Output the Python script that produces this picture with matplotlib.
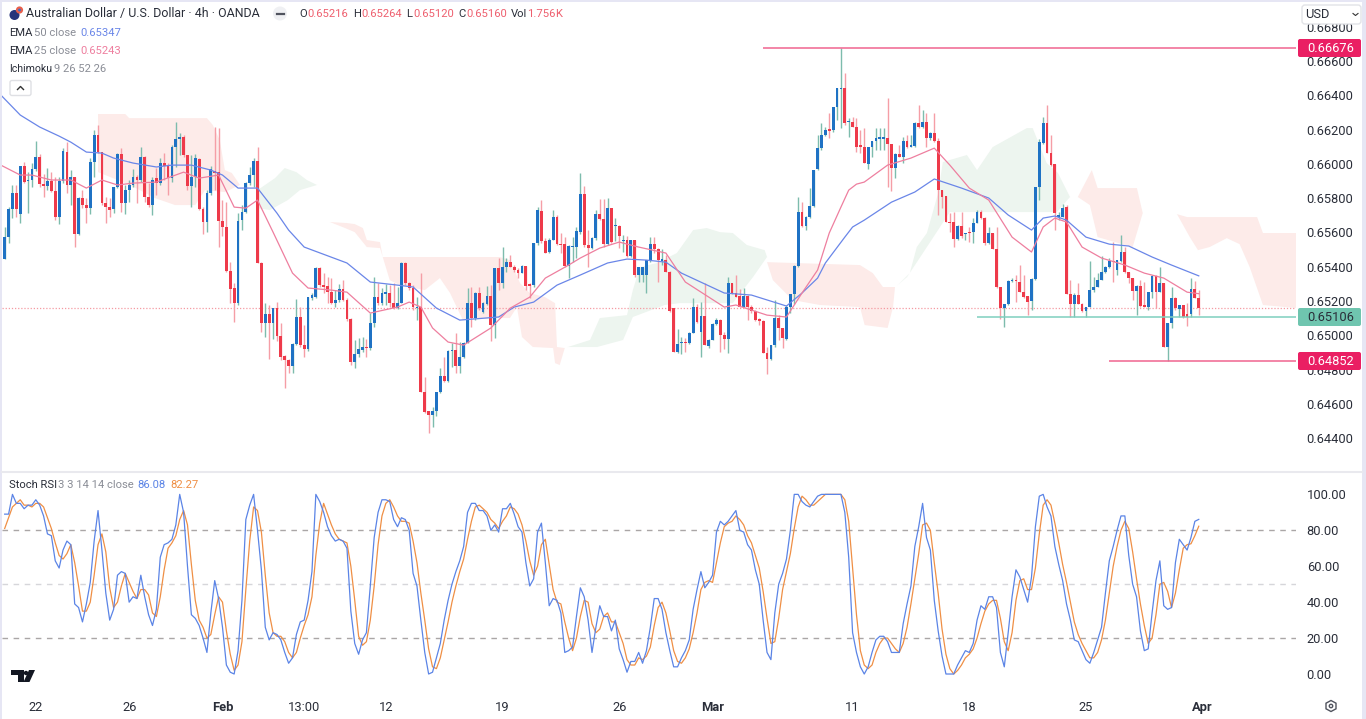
#!/usr/bin/env python3
"""AUD/USD 4h candles with EMA, Ichimoku cloud and Stoch RSI panel."""
import numpy as np
import matplotlib
matplotlib.use("Agg")
import matplotlib.pyplot as plt
from matplotlib.patches import Circle, FancyBboxPatch, Polygon, Rectangle

plt.rcParams["font.family"] = ["Roboto", "DejaVu Sans"]

# prices are in units of 0.00001
opens = [
    65443, 65571, 65735, 65828, 65707, 65987, 65902, 65909, 65968, 66038,
    65882, 65871, 65902, 65843, 65692, 65902, 66071, 65876, 65925, 65591,
    65799, 65760, 65740, 66009, 66168, 66071, 65773, 65746, 65735, 65863,
    66057, 65770, 65847, 65876, 65925, 65906, 66038, 65808, 65760, 65919,
    65886, 66003, 65987, 65915, 66100, 66148, 66158, 66051, 65871, 65925,
    66026, 65735, 65663, 65828, 65960, 65954, 65668, 65634, 65377, 65274,
    65190, 65672, 65721, 65886, 65935, 66018, 65424, 65074, 65124, 65070,
    65157, 64996, 64880, 64856, 64823, 64950, 65105, 64944, 64918, 65216,
    65226, 65391, 65293, 65288, 65255, 65190, 65206, 65268, 65206, 65093,
    64847, 64891, 64915, 64930, 64924, 65074, 65222, 65187, 65241, 65249,
    65187, 65157, 65190, 65423, 65303, 65274, 65161, 65163, 64671, 64561,
    64535, 64561, 64671, 64763, 64736, 64906, 64914, 64821, 64871, 64957,
    65186, 65099, 65248, 65138, 65182, 65229, 65060, 65394, 65303, 65400,
    65429, 65400, 65381, 65365, 65404, 65297, 65293, 65540, 65726, 65552,
    65487, 65559, 65691, 65532, 65532, 65404, 65517, 65517, 65604, 65827,
    65526, 65511, 65565, 65707, 65676, 65532, 65740, 65637, 65637, 65551,
    65555, 65462, 65555, 65351, 65351, 65351, 65439, 65530, 65501, 65435,
    65439, 65371, 65157, 64904, 64955, 64963, 64953, 65015, 65163, 65021,
    65114, 64937, 64972, 65066, 65089, 65002, 64976, 65303, 65248, 65231,
    65163, 65231, 65167, 65143, 65093, 65085, 64895, 64860, 64943, 65103,
    65040, 64976, 65167, 65241, 65404, 65717, 65637, 65691, 65754, 65968,
    66090, 66168, 66201, 66197, 66333, 66436, 66440, 66242, 66246, 66217,
    66110, 66100, 65999, 66096, 66133, 66148, 66148, 66152, 66119, 65978,
    66057, 66042, 66133, 66100, 66104, 66236, 66217, 66246, 66152, 66183,
    66135, 65847, 65812, 65663, 65663, 65560, 65639, 65591, 65604, 65601,
    65657, 65721, 65686, 65536, 65595, 65503, 65284, 65158, 65181, 65317,
    65321, 65313, 65255, 65230, 65200, 65331, 65867, 66123, 66236, 66061,
    65997, 65692, 65692, 65746, 65241, 65181, 65235, 65183, 65144, 65167,
    65264, 65284, 65322, 65371, 65400, 65435, 65381, 65435, 65484, 65371,
    65332, 65258, 65289, 65175, 65167, 65254, 65346, 65254, 65307, 64930,
    65070, 65220, 65153, 65177, 65124, 65124, 65270, 65216,
]
closes = [
    65571, 65735, 65828, 65735, 65987, 65896, 65909, 65968, 66038, 65882,
    65871, 65902, 65843, 65692, 65902, 66077, 65876, 65925, 65591, 65799,
    65760, 65740, 66009, 66168, 66071, 65770, 65746, 65731, 65863, 66057,
    65770, 65847, 65876, 65925, 65906, 66038, 65808, 65760, 65909, 65886,
    66003, 65987, 65915, 66100, 66148, 66158, 66051, 65871, 65925, 66032,
    65735, 65663, 65828, 65968, 65948, 65668, 65634, 65377, 65268, 65190,
    65668, 65721, 65886, 65935, 66018, 65424, 65074, 65124, 65070, 65157,
    64996, 64876, 64856, 64823, 64950, 65105, 64944, 64918, 65222, 65235,
    65391, 65293, 65284, 65255, 65190, 65206, 65268, 65206, 65093, 64847,
    64891, 64918, 64930, 64924, 65074, 65222, 65187, 65245, 65251, 65187,
    65157, 65190, 65423, 65303, 65274, 65163, 65167, 64671, 64555, 64535,
    64561, 64671, 64763, 64736, 64910, 64914, 64821, 64875, 64953, 65186,
    65099, 65248, 65157, 65186, 65229, 65060, 65394, 65303, 65400, 65429,
    65400, 65381, 65365, 65404, 65287, 65287, 65540, 65730, 65552, 65482,
    65559, 65691, 65532, 65526, 65404, 65520, 65524, 65608, 65827, 65526,
    65511, 65569, 65707, 65676, 65532, 65740, 65546, 65643, 65579, 65559,
    65462, 65555, 65351, 65400, 65400, 65439, 65530, 65501, 65439, 65443,
    65371, 65143, 64904, 64949, 64963, 64957, 65015, 65163, 65079, 65114,
    64943, 64972, 65066, 65089, 65002, 64976, 65303, 65248, 65225, 65163,
    65231, 65167, 65143, 65089, 65083, 64899, 64860, 64943, 65103, 65040,
    64982, 65167, 65241, 65404, 65717, 65637, 65691, 65754, 65967, 66090,
    66168, 66197, 66193, 66333, 66440, 66444, 66236, 66250, 66217, 66100,
    66100, 66003, 66100, 66133, 66152, 66156, 66156, 66119, 65974, 66057,
    66042, 66133, 66100, 66108, 66236, 66217, 66246, 66149, 66183, 66135,
    65847, 65808, 65663, 65657, 65560, 65639, 65579, 65599, 65597, 65657,
    65721, 65686, 65536, 65595, 65503, 65280, 65158, 65181, 65319, 65325,
    65315, 65255, 65226, 65196, 65331, 65867, 66125, 66236, 66061, 65993,
    65711, 65701, 65740, 65241, 65181, 65235, 65183, 65144, 65167, 65264,
    65284, 65322, 65371, 65400, 65435, 65429, 65439, 65484, 65371, 65332,
    65260, 65289, 65171, 65167, 65254, 65346, 65254, 65307, 64934, 65070,
    65220, 65157, 65177, 65105, 65105, 65270, 65216, 65160,
]
highs = [
    65634, 65750, 65876, 65876, 65987, 66012, 65954, 66003, 66135, 66057,
    65944, 65974, 65954, 65925, 65925, 66090, 66129, 65964, 65925, 65808,
    65847, 65799, 66032, 66197, 66226, 66071, 65808, 65799, 65867, 66065,
    66090, 65876, 65906, 65968, 65935, 66096, 66045, 65886, 65925, 65974,
    66032, 66061, 66003, 66110, 66244, 66178, 66168, 66051, 66051, 66057,
    66032, 65750, 65847, 65987, 66216, 66207, 65789, 65779, 65430, 65303,
    65711, 65760, 65896, 65983, 66032, 66100, 65430, 65187, 65177, 65157,
    65196, 65070, 64885, 64860, 64954, 65210, 65167, 65060, 65226, 65245,
    65396, 65396, 65361, 65342, 65332, 65264, 65299, 65323, 65216, 65099,
    64973, 64983, 64992, 64977, 65128, 65342, 65303, 65274, 65299, 65293,
    65303, 65284, 65429, 65429, 65313, 65293, 65225, 65365, 64759, 64561,
    64584, 64671, 64807, 64875, 64914, 64953, 65011, 64963, 64963, 65274,
    65283, 65254, 65283, 65196, 65287, 65293, 65394, 65449, 65513, 65449,
    65468, 65410, 65390, 65410, 65404, 65303, 65540, 65746, 65789, 65565,
    65565, 65730, 65701, 65598, 65571, 65526, 65575, 65633, 65948, 65870,
    65614, 65571, 65734, 65798, 65798, 65804, 65740, 65682, 65643, 65585,
    65579, 65555, 65559, 65400, 65400, 65439, 65575, 65571, 65507, 65501,
    65468, 65375, 65157, 65035, 64992, 64982, 65021, 65215, 65182, 65196,
    65303, 64976, 65070, 65099, 65093, 65021, 65338, 65303, 65351, 65268,
    65274, 65235, 65176, 65147, 65099, 65089, 64934, 64943, 65206, 65118,
    65040, 65176, 65244, 65410, 65808, 65779, 65695, 65857, 65967, 66168,
    66240, 66217, 66294, 66333, 66440, 66676, 66531, 66265, 66271, 66265,
    66197, 66207, 66100, 66133, 66207, 66207, 66207, 66382, 66119, 66061,
    66110, 66158, 66168, 66168, 66246, 66343, 66314, 66294, 66187, 66294,
    66154, 65847, 65812, 65715, 65721, 65643, 65721, 65599, 65634, 65686,
    65731, 65731, 65692, 65634, 65595, 65634, 65284, 65181, 65323, 65332,
    65352, 65410, 65352, 65230, 65332, 65867, 66148, 66271, 66343, 66168,
    65997, 65721, 65769, 65760, 65322, 65245, 65307, 65187, 65167, 65435,
    65342, 65361, 65462, 65404, 65449, 65546, 65439, 65585, 65517, 65371,
    65332, 65293, 65322, 65313, 65254, 65352, 65352, 65400, 65307, 65070,
    65280, 65225, 65177, 65177, 65186, 65332, 65319, 65264,
]
lows = [
    65443, 65536, 65682, 65692, 65653, 65886, 65711, 65867, 65960, 65867,
    65808, 65847, 65838, 65672, 65649, 65886, 65828, 65760, 65517, 65585,
    65740, 65657, 65707, 65925, 66061, 65760, 65657, 65688, 65711, 65857,
    65721, 65707, 65779, 65863, 65770, 65896, 65779, 65750, 65702, 65818,
    65876, 65906, 65818, 65896, 65983, 66051, 66042, 65847, 65746, 65863,
    65731, 65591, 65604, 65818, 65847, 65517, 65579, 65371, 65187, 65080,
    65177, 65614, 65711, 65876, 65867, 65420, 65022, 64992, 64860, 64977,
    64969, 64856, 64691, 64779, 64783, 64944, 64934, 64872, 64911, 65206,
    65216, 65284, 65245, 65187, 65183, 65167, 65196, 65202, 65086, 64827,
    64808, 64876, 64905, 64876, 64915, 65047, 65177, 65177, 65177, 65167,
    65154, 65152, 65186, 65293, 65264, 65147, 65089, 64671, 64545, 64428,
    64467, 64529, 64662, 64730, 64730, 64817, 64778, 64778, 64866, 64957,
    65050, 65089, 65147, 65128, 65176, 64969, 64982, 65264, 65274, 65371,
    65396, 65371, 65332, 65361, 65264, 65215, 65283, 65526, 65536, 65478,
    65478, 65555, 65526, 65478, 65400, 65332, 65429, 65449, 65594, 65517,
    65400, 65501, 65555, 65672, 65517, 65526, 65536, 65551, 65507, 65487,
    65458, 65458, 65342, 65313, 65313, 65245, 65429, 65478, 65313, 65410,
    65371, 65138, 64904, 64895, 64891, 64904, 64949, 65011, 65073, 64875,
    64943, 64924, 64972, 65060, 64904, 64918, 64899, 65244, 65225, 65163,
    65163, 65089, 65128, 65085, 65060, 64895, 64774, 64856, 64934, 64972,
    64924, 64972, 65128, 65182, 65400, 65633, 65614, 65682, 65750, 65964,
    66084, 66162, 66149, 66187, 66259, 66207, 66226, 66158, 66213, 66071,
    66061, 66003, 65968, 66038, 66081, 66084, 66081, 65867, 65843, 65915,
    66038, 66003, 66090, 66100, 66100, 66207, 66207, 66100, 66139, 66129,
    65702, 65740, 65663, 65604, 65517, 65556, 65566, 65556, 65546, 65536,
    65653, 65676, 65527, 65533, 65503, 65274, 65093, 65047, 65177, 65313,
    65196, 65255, 65216, 65119, 65148, 65323, 65789, 66119, 66061, 65987,
    65614, 65672, 65688, 65241, 65109, 65109, 65183, 65138, 65109, 65163,
    65254, 65280, 65322, 65365, 65390, 65313, 65352, 65429, 65365, 65303,
    65206, 65118, 65167, 65167, 65148, 65216, 65157, 65254, 64934, 64852,
    65041, 65148, 65109, 65099, 65054, 65105, 65216, 65120,
]

stoch_k = [
    89, 89, 100, 95, 95, 92, 94, 94, 97, 94,
    88, 78, 77, 63, 59, 69, 74, 72, 39, 37,
    29, 39, 51, 74, 91, 69, 45, 30, 36, 55,
    57, 56, 40, 43, 42, 55, 43, 33, 27, 36,
    65, 72, 73, 75, 83, 100, 90, 60, 33, 31,
    27, 20, 12, 34, 52, 42, 26, 5, 1, 0,
    13, 41, 86, 94, 100, 80, 58, 26, 19, 23,
    22, 19, 12, 6, 9, 22, 29, 30, 41, 57,
    100, 96, 90, 82, 77, 74, 75, 74, 70, 35,
    17, 11, 19, 23, 49, 76, 90, 97, 97, 96,
    86, 82, 87, 86, 80, 56, 49, 30, 12, 0,
    1, 9, 17, 30, 41, 50, 57, 63, 71, 90,
    95, 95, 91, 91, 88, 80, 83, 79, 92, 92,
    95, 89, 82, 79, 62, 49, 53, 79, 84, 62,
    38, 42, 41, 34, 12, 13, 15, 32, 48, 43,
    30, 12, 26, 38, 32, 32, 24, 30, 14, 8,
    1, 7, 7, 12, 6, 13, 26, 42, 42, 36,
    23, 13, 4, 4, 9, 13, 19, 36, 47, 57,
    48, 51, 55, 79, 85, 83, 85, 88, 91, 80,
    79, 72, 69, 58, 50, 30, 12, 8, 34, 50,
    56, 64, 80, 100, 100, 96, 94, 93, 96, 99,
    100, 100, 100, 100, 100, 100, 90, 65, 23, 12,
    4, 0, 4, 12, 19, 21, 21, 18, 12, 12,
    12, 28, 39, 49, 71, 82, 95, 76, 69, 41,
    24, 10, 0, 0, 0, 5, 9, 13, 12, 17,
    30, 38, 36, 43, 43, 37, 12, 4, 23, 43,
    58, 54, 47, 40, 54, 82, 99, 100, 93, 88,
    71, 61, 52, 39, 30, 19, 18, 13, 8, 6,
    12, 19, 26, 45, 63, 71, 80, 88, 88, 66,
    50, 43, 24, 13, 14, 34, 52, 63, 38, 36,
    37, 62, 75, 72, 69, 76, 85, 86.08,
]
stoch_d = [
    81, 87, 93, 95, 97, 94, 94, 93, 95, 95,
    93, 87, 81, 73, 66, 64, 67, 72, 62, 49,
    35, 35, 40, 55, 72, 78, 68, 48, 37, 40,
    49, 56, 51, 46, 42, 47, 47, 44, 34, 32,
    43, 58, 70, 73, 77, 86, 91, 83, 61, 41,
    30, 26, 20, 22, 33, 43, 40, 24, 11, 2,
    5, 18, 47, 74, 93, 91, 79, 55, 34, 23,
    21, 21, 18, 12, 9, 12, 20, 27, 33, 43,
    66, 84, 95, 89, 83, 78, 75, 74, 73, 60,
    41, 21, 16, 18, 30, 49, 72, 88, 95, 97,
    93, 88, 85, 85, 84, 74, 62, 45, 30, 14,
    4, 3, 9, 19, 29, 40, 49, 57, 64, 75,
    85, 93, 94, 92, 90, 86, 84, 81, 85, 88,
    93, 92, 89, 83, 74, 63, 55, 60, 72, 75,
    61, 47, 40, 39, 29, 20, 13, 20, 32, 41,
    40, 28, 23, 25, 32, 34, 29, 29, 23, 17,
    8, 5, 5, 9, 8, 10, 15, 27, 37, 40,
    34, 24, 13, 7, 6, 9, 14, 23, 34, 47,
    51, 52, 51, 62, 73, 82, 84, 85, 88, 86,
    83, 77, 73, 66, 59, 46, 31, 17, 18, 31,
    47, 57, 67, 81, 93, 99, 97, 94, 94, 96,
    98, 100, 100, 100, 100, 100, 97, 85, 59, 33,
    13, 5, 3, 5, 12, 17, 20, 20, 17, 14,
    12, 17, 26, 39, 53, 67, 83, 84, 80, 62,
    45, 25, 11, 3, 0, 2, 5, 9, 11, 14,
    20, 28, 35, 39, 41, 41, 31, 18, 13, 23,
    41, 52, 53, 47, 47, 59, 78, 94, 97, 94,
    84, 73, 61, 51, 40, 29, 22, 17, 13, 9,
    9, 12, 19, 30, 45, 60, 71, 80, 85, 81,
    68, 53, 39, 27, 17, 20, 33, 50, 51, 46,
    37, 45, 58, 70, 72, 72.5, 77, 82.27,
]

# EMAs, read at their bends
ema50_i = [-1, 4, 9, 14, 17, 21, 25, 28, 33, 39, 43, 48, 53, 56, 60, 65, 70, 73, 77, 88,
           94, 101, 105, 111, 117, 127, 131, 136, 142, 148, 155, 160, 165, 170, 174, 185,
           192, 201, 205, 209, 211, 216, 218, 221, 228, 234, 239, 246, 253, 258, 264, 267,
           270, 273, 278, 284, 289, 295, 300, 307]
ema50 = [66402, 66285, 66215, 66162, 66127, 66069, 66063, 66034, 66005, 65982, 65993, 65993,
         65964, 65935, 65859, 65859, 65713, 65614, 65515, 65422, 65311, 65293, 65282, 65159,
         65089, 65107, 65165, 65194, 65293, 65352, 65422, 65445, 65439, 65427, 65363, 65247,
         65235, 65171, 65247, 65334, 65422, 65573, 65632, 65672, 65777, 65836, 65912, 65859,
         65801, 65702, 65614, 65684, 65696, 65672, 65573, 65532, 65521, 65457, 65410, 65347]
ema25_i = [-1, 4, 7, 12, 17, 21, 25, 29, 33, 39, 46, 50, 55, 59, 62, 65, 69, 74, 78, 84,
           88, 94, 101, 104, 107, 110, 114, 118, 125, 130, 135, 139, 145, 148, 153, 158,
           163, 170, 175, 185, 188, 196, 201, 205, 209, 212, 215, 217, 219, 221, 227, 233,
           239, 243, 248, 253, 259, 264, 267, 270, 273, 277, 282, 288, 293, 298, 304, 307]
ema25 = [65993, 65935, 65935, 65906, 65906, 65859, 65906, 65877, 65888, 65894, 65952, 65917,
         65935, 65748, 65742, 65789, 65602, 65363, 65276, 65264, 65252, 65130, 65165, 65194,
         65165, 65043, 64961, 64943, 65043, 65159, 65223, 65334, 65410, 65451, 65509, 65544,
         65515, 65480, 65311, 65165, 65177, 65118, 65107, 65247, 65381, 65597, 65748, 65847,
         65882, 65894, 65993, 66034, 66092, 65993, 65859, 65789, 65573, 65486, 65632, 65684,
         65661, 65515, 65451, 65410, 65363, 65334, 65252, 65243]

# Ichimoku cloud outlines (bar position, price)
red_cloud_a_i = [24, 31, 32, 52, 53.5, 55.3, 56.6, 58.4, 60.5, 56.6, 51.5, 49, 43.8, 38.6, 32.2, 24]
red_cloud_a = [66291, 66291, 66267, 66267, 66227, 66139, 65964, 65947, 65877, 65836, 65847, 65760,
               65760, 65801, 65877, 65952]
green_cloud_a_i = [65, 69.5, 72, 75, 77.7, 80.3, 75.9, 72.8, 68.2, 65]
green_cloud_a = [65847, 65917, 65976, 65952, 65906, 65877, 65847, 65789, 65731, 65742]
red_cloud_b_i = [83.6, 88, 90, 92.1, 93.1, 96.5, 97.2, 127.3, 129.9, 132.5, 135, 138.9, 141.5, 142,
                 144, 142.7, 141.5, 141, 135.8, 133, 131.7, 129.9, 126.6, 117.8, 114.5, 111.9, 108,
                 101.6, 99, 96.5, 93.1, 90, 87.5]
red_cloud_b = [65661, 65655, 65649, 65626, 65556, 65544, 65457, 65457, 65439, 65305, 65247, 65223,
               65188, 64932, 64926, 64827, 64838, 64926, 64932, 64990, 65165, 65101, 65101, 65089,
               65247, 65334, 65264, 65293, 65322, 65509, 65515, 65602, 65626]
green_cloud_b_i = [144.8, 150.5, 153, 160, 161.5, 163.3, 167.7, 172.8, 177, 180.5, 183.9, 187.2,
                   190.8, 195.4, 196, 192.4, 187.2, 173.6, 169.7, 161.5, 159, 152.3]
green_cloud_b = [64932, 64973, 65101, 65118, 65264, 65398, 65422, 65480, 65614, 65626, 65602, 65597,
                 65527, 65497, 65457, 65340, 65188, 65188, 65177, 65107, 64973, 64932]
red_cloud_c_i = [196, 219.9, 223.2, 225.8, 228.9, 228.4, 227, 221.1, 219.9, 209.6, 202.6, 197.5]
red_cloud_c = [65427, 65410, 65363, 65282, 65282, 65165, 65043, 65060, 65165, 65177, 65206, 65322]
green_cloud_c_i = [229.6, 232.7, 234.5, 237.1, 240, 241.2, 247.4, 250, 254, 262.8, 264.3, 267.9,
                   270.8, 273.9, 270.5, 243, 237.1, 232]
green_cloud_c = [65293, 65363, 65515, 65597, 65830, 66011, 66052, 65964, 66098, 66209, 66209, 66005,
                 65947, 65807, 65719, 65719, 65515, 65340]
red_cloud_d_i = [275.9, 279.5, 281, 291.1, 292.6, 301.4, 304, 322, 323.5, 332.2, 332.2, 323.5, 320.1,
                 317.5, 314.2, 309.8, 306.8, 304.7, 301.4, 292.6, 290, 281, 279]
red_cloud_d = [65807, 65964, 65859, 65859, 65713, 65707, 65690, 65690, 65597, 65597, 65159, 65177,
               65398, 65532, 65567, 65515, 65497, 65573, 65707, 65713, 65515, 65573, 65760]

y_ticks = [0.644, 0.646, 0.648, 0.650, 0.652, 0.654, 0.656, 0.658, 0.660, 0.662, 0.664, 0.666, 0.668]
stoch_ticks = [0, 20, 40, 60, 80, 100]
x_tick_pos = [8, 32, 56, 77, 98, 128, 158, 182, 218, 248, 278, 308]
x_tick_labels = ["22", "26", "Feb", "13:00", "12", "19", "26", "Mar", "11", "18", "25", "Apr"]
bold_ticks = {"Feb", "Mar", "Apr"}

last_close = 0.65160
high_level, high_start = 0.66676, 195
support_level, support_start = 0.65106, 250
low_level, low_start = 0.64852, 284

UP = "#1f72c4"
DOWN = "#ee3a4a"
UP_WICK = "#7dbcad"
DOWN_WICK = "#f59ea6"
EMA_BLUE = "#6a86e8"
EMA_PINK = "#ee7f9f"
CLOUD_RED = "#fdebe9"
CLOUD_GREEN = "#edf5ef"
TEXT = "#2a2e39"
GREY = "#8a8d96"
LINE_PINK = "#f0658f"
LINE_TEAL = "#7fcfbe"
TICK_SIZE = 9.3
LEG_SIZE = 8.1

W, H = 1366, 719
fig = plt.figure(figsize=(W / 100, H / 100), dpi=100, facecolor="white")


def px_axes(left, top, right, bottom):
    return fig.add_axes([left / W, 1 - bottom / H, (right - left) / W, (bottom - top) / H])


ax = px_axes(2, 0, 1296, 472)
ax_rsi = px_axes(2, 473, 1296, 690)

o, c = np.array(opens) / 1e5, np.array(closes) / 1e5
hi, lo = np.array(highs) / 1e5, np.array(lows) / 1e5
bars = np.arange(len(o))
up = c >= o

for cx, cy, col in [
    (red_cloud_a_i, red_cloud_a, CLOUD_RED),
    (green_cloud_a_i, green_cloud_a, CLOUD_GREEN),
    (red_cloud_b_i, red_cloud_b, CLOUD_RED),
    (green_cloud_b_i, green_cloud_b, CLOUD_GREEN),
    (red_cloud_c_i, red_cloud_c, CLOUD_RED),
    (green_cloud_c_i, green_cloud_c, CLOUD_GREEN),
    (red_cloud_d_i, red_cloud_d, CLOUD_RED),
]:
    ax.fill(cx, np.array(cy) / 1e5, color=col, lw=0, zorder=1)

ax.axhline(last_close, color="#f59aa2", lw=0.9, ls=(0, (1, 1.5)), zorder=1.5)

ax.vlines(bars[up], lo[up], hi[up], color=UP_WICK, lw=1, zorder=2)
ax.vlines(bars[~up], lo[~up], hi[~up], color=DOWN_WICK, lw=1, zorder=2)
body = np.maximum(np.abs(c - o), 0.00006)
ax.bar(bars[up], body[up], bottom=np.minimum(o, c)[up], width=0.72, color=UP, lw=0, zorder=2.2)
ax.bar(bars[~up], body[~up], bottom=np.minimum(o, c)[~up], width=0.72, color=DOWN, lw=0, zorder=2.2)

ax.plot(ema50_i, np.array(ema50) / 1e5, color=EMA_BLUE, lw=0.9, zorder=3)
ax.plot(ema25_i, np.array(ema25) / 1e5, color=EMA_PINK, lw=0.9, zorder=3)

ax.hlines(high_level, high_start, 332, color=LINE_PINK, lw=1.1, zorder=3)
ax.hlines(support_level, support_start, 332, color=LINE_TEAL, lw=1.1, zorder=3)
ax.hlines(low_level, low_start, 332, color=LINE_PINK, lw=1.1, zorder=3)

ax.set_xlim(-0.69, 332)
ax.set_ylim(0.64203, 0.66956)
ax.set_xticks([])
ax.yaxis.tick_right()
ax.set_yticks(y_ticks, [f"{t:.5f}" for t in y_ticks])
ax.tick_params(axis="y", length=0, pad=7.7, labelsize=TICK_SIZE, labelcolor=TEXT)

ax_rsi.axhline(80, color="#aaa6a6", lw=1, ls=(0, (4, 4)))
ax_rsi.axhline(50, color="#d6d6da", lw=1, ls=(0, (4, 4)))
ax_rsi.axhline(20, color="#aaa6a6", lw=1, ls=(0, (4, 4)))
ax_rsi.plot(bars, stoch_d, color="#ef8f45", lw=0.9)
ax_rsi.plot(bars, stoch_k, color="#5b84e6", lw=0.9)
ax_rsi.set_xlim(-0.69, 332)
ax_rsi.set_ylim(-8.9, 111.9)
ax_rsi.yaxis.tick_right()
ax_rsi.set_yticks(stoch_ticks, [f"{t:.2f}" for t in stoch_ticks])
ax_rsi.tick_params(axis="y", length=0, pad=7.7, labelsize=TICK_SIZE, labelcolor=TEXT)
ax_rsi.set_xticks(x_tick_pos, x_tick_labels)
ax_rsi.tick_params(axis="x", length=0, pad=8, labelsize=TICK_SIZE, labelcolor=TEXT)
for lab in ax_rsi.get_xticklabels():
    if lab.get_text() in bold_ticks:
        lab.set_fontweight("bold")

for a in (ax, ax_rsi):
    for side in a.spines.values():
        side.set_visible(False)

# overlay in pixel coordinates: header, legends, price tags, icons
ui = fig.add_axes([0, 0, 1, 1], facecolor="none")
ui.set_xlim(0, W)
ui.set_ylim(H, 0)
ui.axis("off")

ui.add_patch(Rectangle((0, 0), 2, H, color="#e6e6f4", lw=0))
ui.add_patch(Rectangle((0, 0), W, 2, color="#e6e6f4", lw=0))
ui.add_patch(Rectangle((1362, 0), 4, H, color="#e6e6f4", lw=0))
ui.plot([2, 1362], [472, 472], color="#e9e9ee", lw=1.5)

ui.add_patch(Circle((14.5, 15), 5, color="#26347a", lw=0))
ui.add_patch(Circle((19.5, 10), 3.6, color="#e8604c", lw=0))
ui.add_patch(Circle((19.5, 10), 1.4, color="#3b6fd0", lw=0))
ui.text(26, 14, "Australian Dollar / U.S. Dollar · 4h · OANDA", fontsize=8.9, color=TEXT, va="center")
ui.add_patch(Circle((280, 13.5), 7, color="#eff0f3", lw=0))
ui.plot([276.5, 283.5], [13.5, 13.5], color="#50535e", lw=1.6)

val_red = "#ee5f6e"
for lab_x, lab, val_x, val in [(299, "O", 307, "0.65216"), (353, "H", 361, "0.65264"),
                               (406, "L", 413, "0.65120"), (458, "C", 466, "0.65160")]:
    ui.text(lab_x, 14, lab, fontsize=LEG_SIZE, color=TEXT, va="center")
    ui.text(val_x, 14, val, fontsize=LEG_SIZE, color=val_red, va="center")
ui.text(511, 14, "Vol", fontsize=LEG_SIZE, color=TEXT, va="center")
ui.text(527, 14, "1.756", fontsize=LEG_SIZE, color=val_red, va="center")
ui.text(555, 14, "K", fontsize=LEG_SIZE, color=val_red, va="center")

ui.text(9, 32.5, "EMA", fontsize=LEG_SIZE, color=TEXT, va="center")
ui.text(34, 32.5, "50 close", fontsize=LEG_SIZE, color=GREY, va="center")
ui.text(80, 32.5, "0.65347", fontsize=LEG_SIZE, color=EMA_BLUE, va="center")
ui.text(9, 51, "EMA", fontsize=LEG_SIZE, color=TEXT, va="center")
ui.text(34, 51, "25 close", fontsize=LEG_SIZE, color=GREY, va="center")
ui.text(80, 51, "0.65243", fontsize=LEG_SIZE, color=EMA_PINK, va="center")
ui.text(9, 69.5, "Ichimoku", fontsize=7.6, color=TEXT, va="center")
ui.text(54, 69.5, "9 26 52 26", fontsize=LEG_SIZE, color=GREY, va="center")

ui.add_patch(FancyBboxPatch((10, 80.5), 21, 15, boxstyle="round,pad=0,rounding_size=2",
                            fc="white", ec="#dfe0e4", lw=1))
ui.plot([17.5, 20.5, 23.5], [89.5, 86.5, 89.5], color="#333", lw=1)

ui.text(9, 485.5, "Stoch RSI", fontsize=LEG_SIZE, color=TEXT, va="center")
ui.text(58, 485.5, "3 3 14 14 close", fontsize=LEG_SIZE, color=GREY, va="center")
ui.text(137, 485.5, "86.08", fontsize=LEG_SIZE, color="#5b84e6", va="center")
ui.text(170, 485.5, "82.27", fontsize=LEG_SIZE, color="#ef8f45", va="center")

ui.add_patch(FancyBboxPatch((1302, 5), 59, 19, boxstyle="round,pad=0,rounding_size=3",
                            fc="white", ec="#e2e3e7", lw=1, zorder=5))
ui.text(1305, 14.5, "USD", fontsize=TICK_SIZE, color=TEXT, va="center", zorder=6)
ui.plot([1353, 1355.5, 1358], [13.5, 15.5, 13.5], color="#333", lw=0.8, zorder=6)

for yc, lab, bg, fg in [(48, "0.66676", "#ea1f63", "white"),
                        (317, "0.65106", "#6fc5af", TEXT),
                        (361, "0.64852", "#ea1f63", "white")]:
    ui.add_patch(FancyBboxPatch((1298, yc - 9), 63, 18, boxstyle="round,pad=0,rounding_size=2",
                                fc=bg, ec="none", zorder=5))
    ui.text(1307, yc + 0.3, lab, fontsize=TICK_SIZE, color=fg, va="center", zorder=6)

# TradingView mark
ui.add_patch(Polygon([(11, 670), (24, 670), (24, 682), (18, 682), (18, 675), (11, 675)], color="#131722", lw=0))
ui.add_patch(Circle((26, 673), 2.2, color="#131722", lw=0))
ui.add_patch(Polygon([(29, 670), (35, 670), (29.5, 682), (23.5, 682)], color="#131722", lw=0))

ui.add_patch(Polygon([(1331, 700.5), (1336, 703.2), (1336, 708.8), (1331, 711.5), (1326, 708.8), (1326, 703.2)],
                     fc="white", ec="#50535e", lw=1))
ui.add_patch(Circle((1331, 706), 1.7, fc="white", ec="#50535e", lw=1))

fig.savefig("out.png", dpi=100)
